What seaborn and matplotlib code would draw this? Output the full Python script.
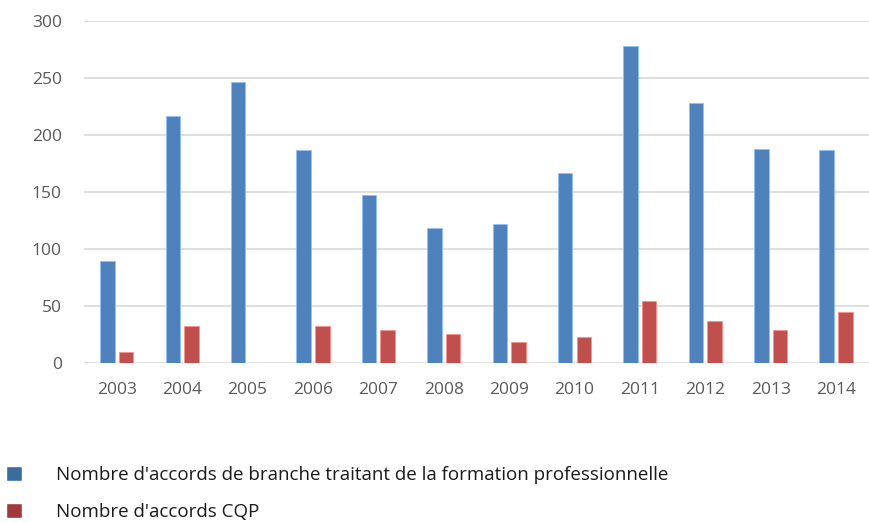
import pandas as pd
import matplotlib.pyplot as plt
import seaborn as sns
from matplotlib.patches import Patch

# Data
years = ['2003', '2004', '2005', '2006', '2007', '2008',
         '2009', '2010', '2011', '2012', '2013', '2014']
accords_branche = [89, 217, 246, 187, 147, 118, 122, 167, 278, 228, 188, 187]
accords_cqp = [10, 32, 0, 32, 29, 25, 18, 23, 54, 37, 29, 45]

label_branche = "Nombre d'accords de branche traitant de la formation professionnelle"
label_cqp = "Nombre d'accords CQP"

df = pd.DataFrame({'Année': years * 2,
                   'Valeur': accords_branche + accords_cqp,
                   'Série': [label_branche] * len(years) + [label_cqp] * len(years)})

sns.set_style('white')
plt.rcParams['font.family'] = ['Open Sans', 'DejaVu Sans']

fig = plt.figure(figsize=(8.7, 5.23), dpi=100)
ax = fig.add_axes([0.0966, 0.306, 0.902, 0.654])

sns.barplot(data=df, x='Année', y='Valeur', hue='Série',
            palette=['#4f81bd', '#c0504d'], width=0.57, gap=0.22,
            saturation=1, legend=False, ax=ax)

# soft lighter outline like the original
for bar in ax.patches:
    fc = bar.get_facecolor()
    bar.set_edgecolor(tuple(min(1, c + 0.25) for c in fc[:3]))
    bar.set_linewidth(0.6)

ax.set_ylim(0, 300)
ax.set_yticks(range(0, 301, 50))
ax.set_xlim(-0.5, len(years) - 0.5)
ax.yaxis.grid(True, color='#d9d9d9', linewidth=1.2)
ax.set_axisbelow(True)
sns.despine(ax=ax, left=True, bottom=True)
ax.tick_params(axis='both', length=0, labelsize=12.5, labelcolor='#595959')
ax.tick_params(axis='y', pad=16)
ax.tick_params(axis='x', pad=14)
ax.set_xlabel('')
ax.set_ylabel('')

handles = [Patch(facecolor='#3a6d9e', label=label_branche),
           Patch(facecolor='#a03a3d', label=label_cqp)]
fig.legend(handles=handles, loc='upper left', bbox_to_anchor=(-0.002, 0.124),
           frameon=False, fontsize=13.5, handlelength=0.85, handleheight=0.85,
           handletextpad=1.85, labelspacing=1.05, borderaxespad=0,
           labelcolor='#1a1a1a')

plt.savefig('out.png', dpi=100)
plt.close()
